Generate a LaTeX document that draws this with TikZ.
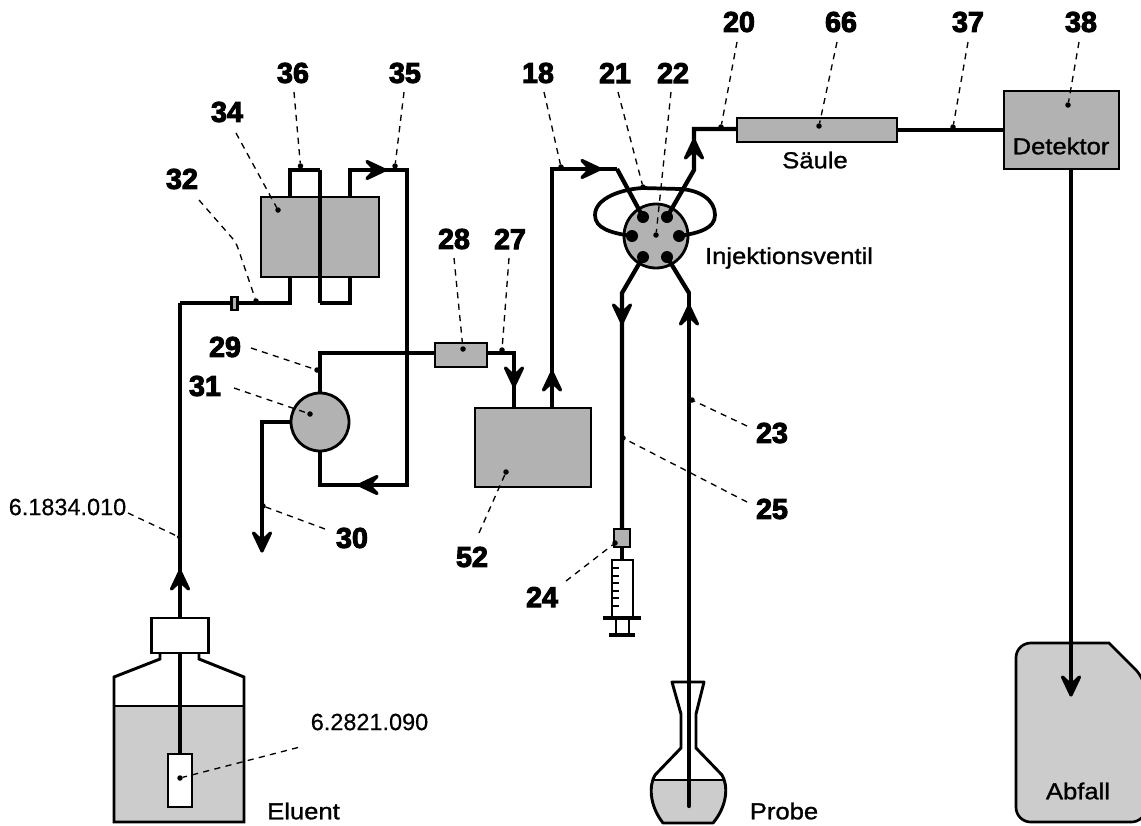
\documentclass[tikz,border=0pt]{standalone}
\usepackage{fontspec}
\setmainfont{Liberation Sans}
\newfontfamily\numfont{Liberation Sans Bold}[FakeBold=3.5]
\newfontfamily\capfont{Liberation Sans}[FakeStretch=1.11,FakeBold=1.2]
\newfontfamily\partfont{Liberation Sans}[FakeBold=0.4]
\definecolor{boxgrey}{HTML}{B2B2B2}
\definecolor{liquid}{HTML}{CCCCCC}
\def\u{0.75pt}
\tikzset{
  x=0.75pt,y=-0.75pt,
  pipe/.style={line width=3.2pt,line join=miter},
  thinline/.style={line width=2.2pt,line join=miter},
  leader/.style={line width=1pt,dash pattern=on 4.6pt off 4pt},
  unit/.style={draw,line width=2.1pt,fill=boxgrey,inner sep=0,outer sep=0},
  dotmark/.style={circle,fill=black,inner sep=0,outer sep=0,minimum size=5.5*\u},
  port/.style={circle,fill=black,inner sep=0,outer sep=0,minimum size=12*\u},
  numlabel/.style={font=\numfont\fontsize{21.5pt}{22pt}\selectfont,inner sep=0},
  caption/.style={font=\capfont\fontsize{17.3pt}{18pt}\selectfont,inner sep=0},
  partno/.style={font=\partfont\fontsize{17.6pt}{18pt}\selectfont,inner sep=0},
}
% chevron arrow head: coordinate name of the tip, direction in degrees
\newcommand{\flowhead}[2]{%
  \begin{scope}[shift={(#1)},rotate=#2]
    \filldraw[line width=2.4pt,line join=round,line cap=round]
      (-2,0) -- (-20,8.5) -- (-12,0) -- (-20,-8.5) -- cycle;
  \end{scope}%
}
% name, text, label x,y, leader start x,y, dot x,y
\newcommand{\callout}[8]{%
  \node[numlabel] (lab#1) at (#3,#4) {#2};
  \coordinate (st#1) at (#5,#6);
  \node[dotmark] (dot#1) at (#7,#8) {};
  \draw[leader] (st#1) -- (dot#1);
}
\begin{document}
\begin{tikzpicture}
\useasboundingbox (0,0) rectangle (1141,825);

% ---------- Abfall canister
\draw[fill=liquid,line width=2pt,rounded corners=11pt]
  (1109,643) -- (1016,643) -- (1016,822) -- (1146,822) -- (1146,680) [sharp corners] -- cycle;
\node[caption] (abfall) at (1078,791) {Abfall};

% ---------- Eluent bottle
\fill[liquid] (114,706) rectangle (244,822);
\draw[thinline] (160,653) -- (160,659) -- (114,677) -- (114,822) -- (244,822) -- (244,677) -- (199,659) -- (199,653);
\draw[thinline] (114,706) -- (244,706);
\node[draw,line width=2.2pt,fill=white,inner sep=0,outer sep=0,minimum width=57*\u,minimum height=35*\u] (cap) at (180,635.5) {};
\node[draw,line width=2.2pt,fill=white,inner sep=0,outer sep=0,minimum width=24*\u,minimum height=53*\u] (filter) at (180,780.5) {};
\coordinate (a1) at (180,303);
\draw[pipe] (cap.north) -- (a1);
\draw[pipe] (cap.south) -- (filter.north);
\coordinate (t1) at (180,569);
\flowhead{t1}{90}
\node[caption] (eluent) at (303.5,811) {Eluent};

% ---------- Pipe circuit left
\coordinate (a2) at (290,303);
\coordinate (a3) at (290,170);
\coordinate (a4) at (320,170);
\coordinate (a5) at (320,303);
\coordinate (a6) at (350,303);
\coordinate (a7) at (350,170);
\coordinate (a8) at (407,170);
\coordinate (a9) at (407,485);
\coordinate (a10) at (320,485);
\draw[pipe] (a1) -- (a2) -- (a3) -- (a4);
\draw[pipe] (a5) -- (a6) -- (a7) -- (a8) -- (a9) -- (a10) -- (320,451);
\coordinate (t2) at (387,170);
\flowhead{t2}{0}
\coordinate (t3) at (357,485);
\flowhead{t3}{180}
\node[unit,minimum width=118*\u,minimum height=80*\u] (degasser) at (320,237) {};
\draw[pipe] (a4) -- (a5);
\node[draw,line width=1.6pt,fill=boxgrey,inner sep=0,outer sep=0,minimum width=6*\u,minimum height=13*\u] (coupler) at (234.5,303.5) {};

% ---------- Pump
\node[unit,circle,minimum size=58*\u] (pump) at (320,422) {};
\coordinate (b1) at (320,353);
\coordinate (b2) at (514,353);
\coordinate (b3) at (514,408);
\coordinate (w1) at (262,422);
\coordinate (w2) at (262,540);
\draw[pipe] (pump.north) -- (b1) -- (435,353);
\draw[pipe] (pump.south) -- (a10);
\draw[pipe] (pump.west) -- (w1) -- (w2);
\coordinate (t4) at (262,553);
\flowhead{t4}{-90}

% ---------- Pulsation damper, block 52
\node[unit,minimum width=52*\u,minimum height=24*\u] (damper) at (461,355) {};
\draw[pipe] (damper.east |- b2) -- (b2) -- (b3);
\coordinate (t5) at (514,388);
\flowhead{t5}{-90}
\coordinate (c1) at (552,408);
\coordinate (c2) at (552,169);
\coordinate (c3) at (617,169);
\draw[pipe] (c1) -- (c2) -- (c3);
\coordinate (t6) at (552,370);
\flowhead{t6}{90}
\coordinate (t7) at (602,169);
\flowhead{t7}{0}
\node[unit,minimum width=116*\u,minimum height=79*\u] (block) at (533,447.5) {};

% ---------- Injection valve
\node[unit,circle,minimum size=64*\u] (valve) at (656,236) {};
\node[port] (p1) at (643,217) {};
\node[port] (p2) at (667,217) {};
\node[port] (p3) at (632,236) {};
\node[port] (p4) at (679,236) {};
\node[port] (p5) at (643,257) {};
\node[port] (p6) at (667,257) {};
\draw[line width=2.8pt] (p3.center) .. controls (610,233) and (595,228) .. (595,215)
  .. controls (595,198) and (622,189) .. (643,188) -- (680,189)
  .. controls (700,190) and (715,200) .. (715,215)
  .. controls (715,228) and (700,233) .. (p4.center);
\draw[pipe,line join=round] (c3) -- (p1.center);
\coordinate (e1) at (694,170);
\coordinate (e2) at (694,129);
\node[unit,minimum width=160*\u,minimum height=24*\u] (column) at (817,130) {};
\node[unit,minimum width=115*\u,minimum height=78*\u] (detector) at (1061.5,130) {};
\draw[pipe] (p2.center) -- (e1) -- (e2) -- (column.west |- e2);
\coordinate (t8) at (694,138);
\flowhead{t8}{90}
\draw[pipe] (column.east) -- (detector.west);
\coordinate (f1) at (622,293);
\coordinate (f2) at (622,529);
\coordinate (g1) at (689,293);
\coordinate (g2) at (689,806);
\draw[pipe] (p5.center) -- (f1) -- (f2);
\coordinate (t9) at (622,325);
\flowhead{t9}{-90}
\coordinate (t10) at (689,304);
\flowhead{t10}{90}
\draw[pipe,line join=round] (p6.center) -- (g1);
\node[caption] (sample) at (789,258) {Injektionsventil};
\node[caption] (saule) at (815,160) {Säule};
\node[caption] (dettext) at (1061,146) {Detektor};

% ---------- Waste line
\coordinate (d1) at (1071,169);
\coordinate (d2) at (1071,685);
\draw[pipe] (d1) -- (d2);
\coordinate (t11) at (1071,697);
\flowhead{t11}{-90}

% ---------- Syringe
\node[unit,minimum width=16*\u,minimum height=18*\u] (sconn) at (622,538) {};
\node[draw,thinline,fill=white,inner sep=0,outer sep=0,minimum width=21*\u,minimum height=57*\u] (barrel) at (622.5,588.5) {};
\draw[pipe] (sconn.south) -- (622,560);
\foreach \yy in {568,576,583,591,598,606} \draw[line width=1.2pt] (612,\yy) -- (619,\yy);
\draw[line width=2.8pt] (603,618) -- (641,618);
\draw[line width=1.6pt] (616,618) -- (616,635);
\draw[line width=1.6pt] (629,618) -- (629,635);
\draw[line width=2.8pt] (609,635) -- (635,635);

% ---------- Sample flask
\fill[liquid] (653,780) .. controls (650,788) and (650,805) .. (663,823) -- (713,823) .. controls (727,805) and (727,788) .. (724,780) -- cycle;
\draw[thinline,line join=round] (672,682) -- (681,714) -- (681,748) -- (655,775)
  .. controls (649,785) and (649,805) .. (663,823) -- (713,823)
  .. controls (728,805) and (728,785) .. (722,775) -- (696,748) -- (696,714) -- (704,682) -- cycle;
\draw[thinline] (653,780) -- (724,780);
\draw[pipe,line cap=round] (g1) -- (g2);
\node[caption] (probe) at (784,811) {Probe};

% ---------- Callouts
\callout{36}{36}{293}{73}{294}{92}{300.5}{166}
\callout{35}{35}{405}{73}{404}{92}{395}{166}
\callout{34}{34}{227}{112}{236}{133}{278}{210}
\callout{29}{29}{225}{347}{251}{348}{317}{370}
\callout{31}{31}{205}{386}{234}{388}{310}{414}
\callout{30}{30}{352}{538}{325}{529}{263}{506}
\callout{28}{28}{454}{239}{454}{258}{463}{349}
\callout{27}{27}{510}{239}{509}{258}{502}{350}
\callout{52}{52}{472}{557}{479}{533}{506}{472}
\callout{18}{18}{538}{73}{544}{92}{561}{167}
\callout{21}{21}{615}{73}{618}{92}{643}{187}
\callout{22}{22}{673}{73}{671}{92}{656}{235}
\callout{20}{20}{739}{22}{737}{42}{721}{127}
\callout{66}{66}{841}{22}{837}{42}{819}{126}
\callout{37}{37}{968}{22}{968}{42}{953}{127}
\callout{38}{38}{1081}{22}{1079}{42}{1068}{105}
\callout{23}{23}{772}{433}{747}{426}{692}{400}
\callout{25}{25}{772}{509}{747}{502}{623}{438}
\callout{24}{24}{542}{597}{566}{581}{615}{543}
% 32 has a bent leader
\node[numlabel] (lab32) at (182,179) {32};
\coordinate (st32) at (199,200);
\node[dotmark] (dot32) at (256,301) {};
\draw[leader] (st32) -- (233,239) .. controls (236,242) and (238,248) .. (240,254) -- (dot32);
% free-standing part numbers
\node[partno] (pn1) at (67.5,507) {6.1834.010};
\coordinate (pn1e) at (128,513);
\node[dotmark,minimum size=4*\u] (dotpn1) at (179,537) {};
\draw[leader] (pn1e) -- (dotpn1);
\node[partno] (pn2) at (369.5,722) {6.2821.090};
\coordinate (pn2e) at (298,747.5);
\node[dotmark] (dotpn2) at (180,778) {};
\draw[leader] (pn2e) -- (dotpn2);
\end{tikzpicture}
\end{document}
